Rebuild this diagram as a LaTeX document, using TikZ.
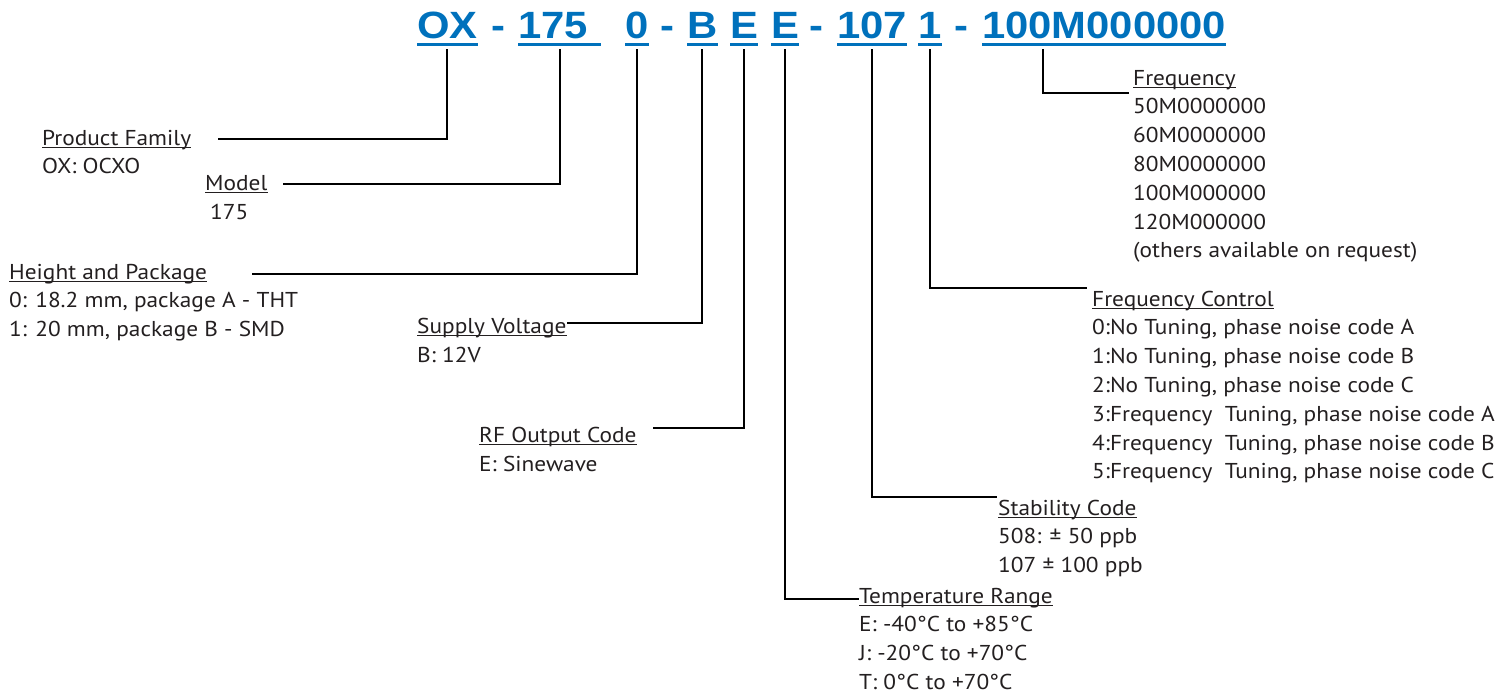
\documentclass[tikz,border=0pt]{standalone}
\usepackage{fontspec}
\newfontfamily\codefont[FakeStretch=1.1]{Liberation Sans Bold}
\newfontfamily\labelfont[FakeStretch=1.085]{PT Sans}
\definecolor{oxblue}{RGB}{0,113,188}
\definecolor{txt}{RGB}{35,31,32}
\tikzset{
  code/.style={font=\codefont\fontsize{38}{40}\selectfont, text=oxblue, inner sep=0pt, text depth=0pt, anchor=base west},
  sep/.style={font=\codefont\fontsize{38}{40}\selectfont, text=oxblue, inner sep=0pt, anchor=base},
  uline/.style={oxblue, line width=3pt},
  conn/.style={black, line width=2pt},
  head/.style={font=\labelfont\fontsize{21.5}{29}\selectfont, text=txt, inner sep=0pt, anchor=base west},
  item/.style={head},
  hline/.style={txt, line width=1.2pt}
}
\begin{document}
\begin{tikzpicture}[x=1pt,y=-1pt]
\useasboundingbox (0,0) rectangle (1512,696);

% part number
\node[code] (cOX) at (417,38) {OX};
\node[sep] (d1) at (498.5,38) {-};
\node[code] (c175) at (518,38) {175\kern13pt};
\node[code] (c0) at (625,38) {0};
\node[sep] (d2) at (667.5,38) {-};
\node[code] (cB) at (687,38) {B};
\node[code] (cE1) at (730,38) {E};
\node[code] (cE2) at (771,38) {E};
\node[sep] (d3) at (816,38) {-};
\node[code] (c107) at (837,38) {107};
\node[code] (c1) at (918,38) {1};
\node[sep] (d4) at (961,38) {-};
\node[code] (cFreq) at (982,38) {100M000000};
\foreach \c in {cOX,c175,c0,cB,cE1,cE2,c107,c1,cFreq}
  \draw[uline] ([yshift=-6]\c.south west) -- ([yshift=-6]\c.south east);

% field descriptions
\node[head] (pf) at (42,145) {Product Family};
\node[item] (pf-1) at (42,173) {OX: OCXO};

\node[head] (mdl) at (205,190) {Model};
\node[item] (mdl-1) at (210,219) {175};

\node[head] (hp) at (9,279) {Height and Package};
\foreach \t [count=\i] in {{0: 18.2 mm, package A - THT},{1: 20 mm, package B - SMD}}
  \node[item] (hp-\i) at (9,{279+28.8*\i}) {\t};

\node[head] (sv) at (417,333) {Supply Voltage};
\node[item] (sv-1) at (417,362) {B: 12V};

\node[head] (rf) at (479,442) {RF Output Code};
\node[item] (rf-1) at (479,471) {E: Sinewave};

\node[head] (tr) at (859,603) {Temperature Range};
\foreach \t [count=\i] in {E: -40°C to +85°C,J: -20°C to +70°C,T: 0°C to +70°C}
  \node[item] (tr-\i) at (859,{603+28.8*\i}) {\t};

\node[head] (sc) at (998,515) {Stability Code};
\foreach \t [count=\i] in {508: ± 50 ppb,107 ± 100 ppb}
  \node[item] (sc-\i) at (998,{515+28.8*\i}) {\t};

\node[head] (fc) at (1092,306) {Frequency Control};
\foreach \t [count=\i] in {{0:No Tuning, phase noise code A},{1:No Tuning, phase noise code B},{2:No Tuning, phase noise code C},{3:Frequency~ Tuning, phase noise code A},{4:Frequency~ Tuning, phase noise code B},{5:Frequency~ Tuning, phase noise code C}}
  \node[item] (fc-\i) at (1092,{306+28.8*\i}) {\t};

\node[head] (freq) at (1133,85) {Frequency};
\foreach \t [count=\i] in {50M0000000,60M0000000,80M0000000,100M000000,120M000000,(others available on request)}
  \node[item] (freq-\i) at (1133,{85+28.8*\i}) {\t};

\foreach \h in {pf,mdl,hp,sv,rf,tr,sc,fc,freq}
  \draw[hline] ([yshift=-2.5]\h.base west) -- ([yshift=-2.5]\h.base east);

% leader lines
\coordinate (pf-end) at (218,139);
\coordinate (mdl-end) at (283,184);
\coordinate (hp-end) at (252,274);
\coordinate (sv-end) at (567,323);
\coordinate (rf-end) at (653,428);
\coordinate (tr-end) at (859,599);
\coordinate (sc-end) at (997,497);
\coordinate (fc-end) at (1087,288);
\coordinate (freq-end) at (1129,93);
\draw[conn] ([yshift=-11]cOX.south) |- (pf-end);
\draw[conn] ([yshift=-11]c175.south) |- (mdl-end);
\draw[conn] ([yshift=-11]c0.south) |- (hp-end);
\draw[conn] ([yshift=-11]cB.south) |- (sv-end);
\draw[conn] ([yshift=-11]cE1.south) |- (rf-end);
\draw[conn] ([yshift=-11]cE2.south) |- (tr-end);
\draw[conn] ([yshift=-11]c107.south) |- (sc-end);
\draw[conn] ([yshift=-11]c1.south) |- (fc-end);
\draw[conn] ([xshift=61,yshift=-11]cFreq.south west) |- (freq-end);
\end{tikzpicture}
\end{document}
